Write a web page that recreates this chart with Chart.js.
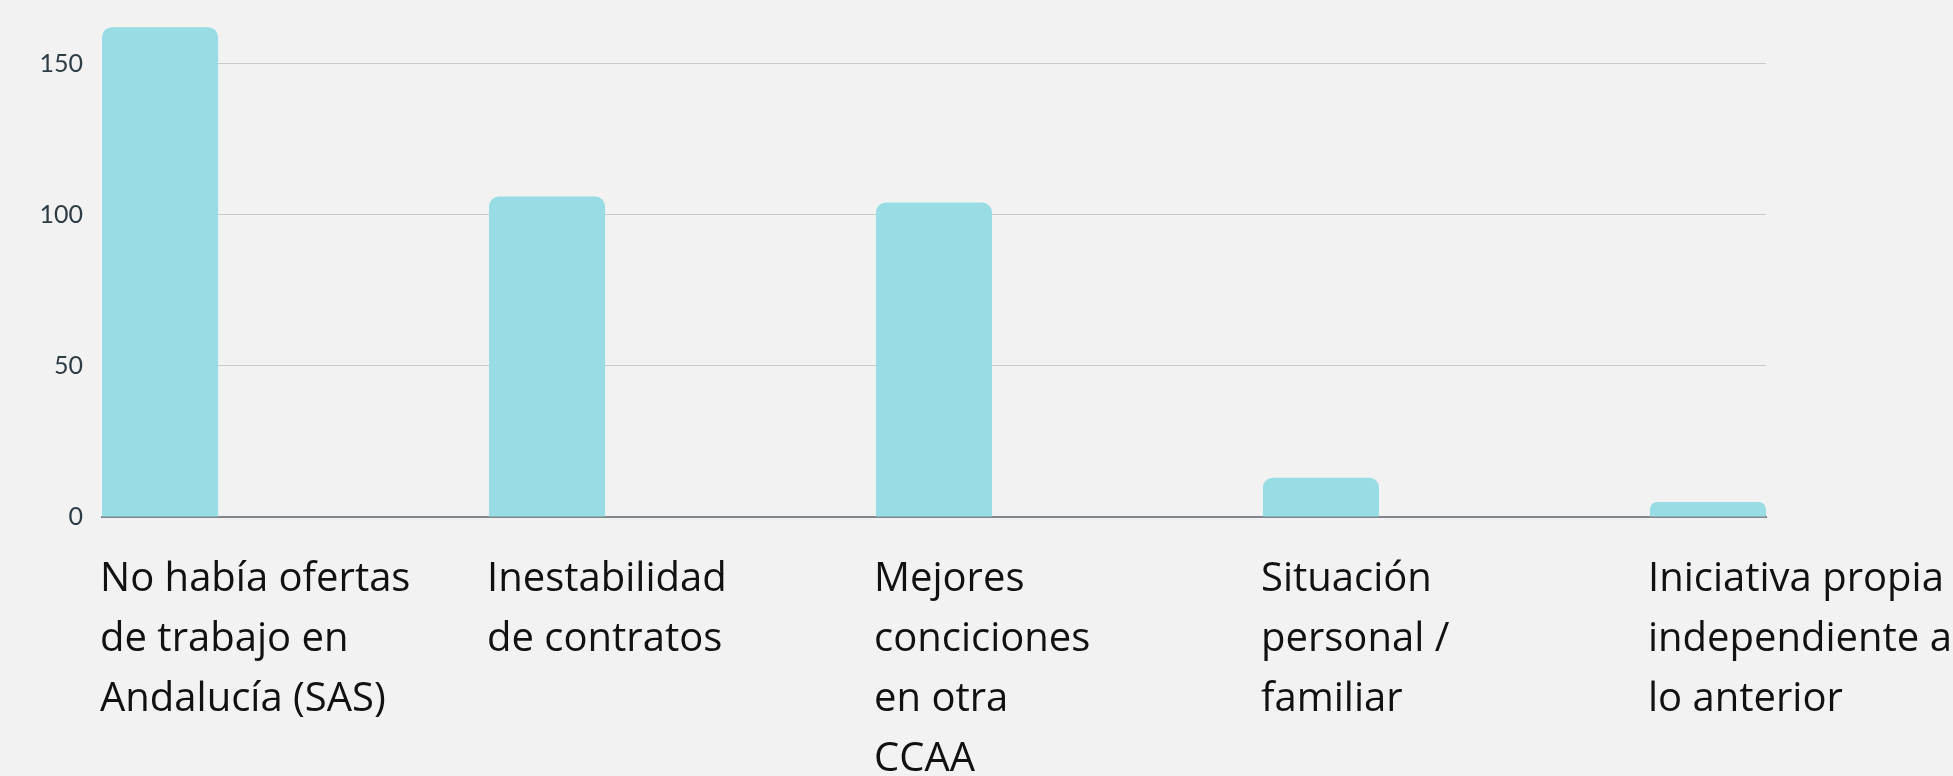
<!DOCTYPE html>
<html>
<head>
<meta charset="utf-8">
<script src="https://cdn.jsdelivr.net/npm/chart.js@4/dist/chart.umd.min.js"></script>
<style>
    html, body { margin: 0; padding: 0; background: #f2f2f2; }
    #wrap { width: 1953px; height: 776px; }
</style>
</head>
<body>
<div id="wrap"><canvas id="motivos" width="1953" height="776"></canvas></div>
<script>
// Motivos para salir de Andalucía — one bar per reason
const categories = [
    ['No había ofertas', 'de trabajo en', 'Andalucía (SAS)'],
    ['Inestabilidad', 'de contratos'],
    ['Mejores', 'conciciones', 'en otra', 'CCAA'],
    ['Situación', 'personal /', 'familiar'],
    ['Iniciativa propia', 'independiente a', 'lo anterior']
];
const responses = [162, 106, 104, 13, 5];
const yTicks = [0, 50, 100, 150];

const barColor = '#97dde3';
const gridColor = '#c8cacc';
const axisColor = '#80868b';

const ctx = document.getElementById('motivos').getContext('2d');
new Chart(ctx, {
    type: 'bar',
    data: {
        datasets: [{
            data: responses.map((v, i) => ({ x: i, y: v })),
            backgroundColor: barColor,
            borderRadius: 10,
            borderSkipped: 'start',
            categoryPercentage: 1,
            barPercentage: 0.3
        }]
    },
    options: {
        responsive: false,
        animation: false,
        layout: { padding: { left: 0, top: 3, right: 187, bottom: 0 } },
        plugins: {
            legend: { display: false },
            tooltip: { enabled: false }
        },
        scales: {
            x: {
                type: 'linear',
                offset: false,
                min: -0.15,
                max: categories.length - 1 + 0.15,
                grid: { display: false, drawTicks: false, offset: false },
                border: { display: true, color: axisColor, width: 2 },
                afterBuildTicks: axis => {
                    axis.ticks = categories.map((_, i) => ({ value: i }));
                },
                afterFit: axis => {
                    axis.height = 259;
                    axis.paddingLeft = 0;
                    axis.paddingRight = 0;
                },
                ticks: {
                    autoSkip: false,
                    maxRotation: 0,
                    minRotation: 0,
                    align: 'start',
                    labelOffset: -60,
                    padding: 33,
                    color: '#111111',
                    font: { family: '"Open Sans", "Noto Sans", sans-serif', size: 40, lineHeight: 1.5 },
                    callback: v => categories[v]
                }
            },
            y: {
                min: 0,
                max: 170,
                grid: { color: gridColor, lineWidth: 1, drawTicks: false },
                border: { display: false },
                afterBuildTicks: axis => {
                    axis.ticks = yTicks.map(v => ({ value: v }));
                },
                afterFit: axis => {
                    axis.width = 102;
                    axis.paddingTop = 0;
                    axis.paddingBottom = 0;
                },
                ticks: {
                    padding: 19,
                    color: '#2e3c45',
                    font: { family: 'Lato, sans-serif', size: 25 }
                }
            }
        }
    }
});
</script>
</body>
</html>
